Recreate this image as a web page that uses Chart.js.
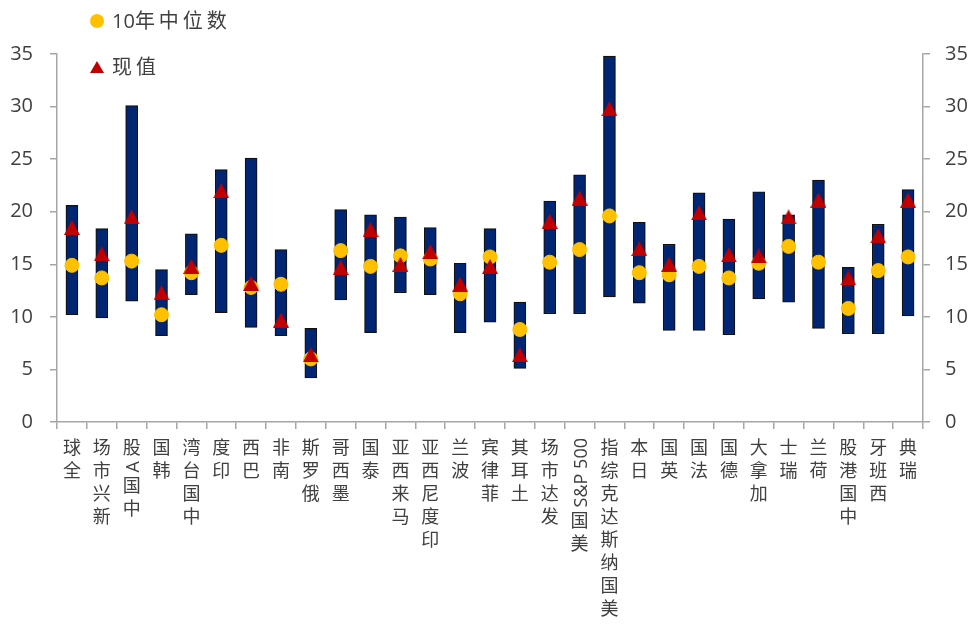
<!DOCTYPE html>
<html>
<head>
<meta charset="utf-8">
<title>估值区间</title>
<script src="https://cdn.jsdelivr.net/npm/chart.js@4.4.1/dist/chart.umd.min.js"></script>
<style>
  body { margin: 0; background: #fff; }
  #wrap { position: relative; width: 970px; height: 635px; font-family: "Open Sans", "Noto Sans CJK SC", sans-serif; color: #404040; }
  #chart { position: absolute; left: 0; top: 0; }
  .legend-item { position: absolute; left: 90px; height: 24px; display: flex; align-items: center; font-size: 20px; letter-spacing: 4px; line-height: 24px; }
  .legend-item .num { letter-spacing: 0; }
  .dot { width: 14px; height: 14px; border-radius: 50%; background: #FFC000; margin-right: 8px; }
  .tri { width: 0; height: 0; border-left: 7px solid transparent; border-right: 7px solid transparent; border-bottom: 12px solid #C00000; margin-right: 8px; }
  /* 类目标签自下而上排列：中文直立，拉丁字符逆时针侧转 */
  .xlabel { position: absolute; top: 436px; display: flex; flex-direction: column-reverse; align-items: center; transform: translateX(-50%); font-size: 18px; }
  .xlabel .ch { display: block; height: 23px; line-height: 23px; }
  .xlabel .latin { display: block; writing-mode: vertical-rl; transform: rotate(180deg); line-height: 23px; padding: 2px 0; white-space: pre; }
</style>
</head>
<body>
<div id="wrap">
  <canvas id="chart" width="970" height="635"></canvas>
  <div class="legend-item" style="top: 9px;"><span class="dot"></span><span class="num">10</span>年中位数</div>
  <div class="legend-item" style="top: 55px;"><span class="tri"></span>现值</div>
  <div id="xlabels"></div>
</div>
<script>
const categories = ['全球', '新兴市场', '中国A股', '韩国', '中国台湾', '印度', '巴西', '南非', '俄罗斯', '墨西哥',
  '泰国', '马来西亚', '印度尼西亚', '波兰', '菲律宾', '土耳其', '发达市场', '美国S&P 500', '美国纳斯达克综指', '日本',
  '英国', '法国', '德国', '加拿大', '瑞士', '荷兰', '中国港股', '西班牙', '瑞典'];

// 10年区间 低 / 高
const rangeLow = [10.2, 9.9, 11.5, 8.2, 12.1, 10.4, 9.0, 8.2, 4.2, 11.6,
  8.5, 12.3, 12.1, 8.5, 9.5, 5.1, 10.3, 10.3, 11.9, 11.3,
  8.7, 8.7, 8.3, 11.7, 11.4, 8.9, 8.4, 8.4, 10.1];
const rangeHigh = [20.6, 18.4, 30.1, 14.5, 17.9, 24.0, 25.1, 16.4, 8.9, 20.2,
  19.7, 19.5, 18.5, 15.1, 18.4, 11.4, 21.0, 23.5, 34.8, 19.0,
  16.9, 21.8, 19.3, 21.9, 19.7, 23.0, 14.7, 18.8, 22.1];
const median10y = [14.9, 13.7, 15.3, 10.2, 14.2, 16.8, 12.8, 13.1, 6.0, 16.3,
  14.8, 15.8, 15.5, 12.2, 15.7, 8.8, 15.2, 16.4, 19.6, 14.2,
  14.0, 14.8, 13.7, 15.1, 16.7, 15.2, 10.8, 14.4, 15.7];
const current = [18.5, 16.0, 19.5, 12.3, 14.8, 22.0, 13.2, 9.7, 6.4, 14.7,
  18.3, 15.0, 16.2, 13.1, 14.8, 6.4, 19.1, 21.3, 29.8, 16.5,
  15.0, 19.9, 15.9, 15.8, 19.5, 21.1, 13.7, 17.7, 21.1];

const yMin = 0, yMax = 35, yStep = 5;
const axisColor = '#A6A6A6';
const textColor = '#404040';
const fontFamily = '"Open Sans", "Noto Sans CJK SC", sans-serif';

// 三角形标记：用小画布做 pointStyle，图像中心即数值位置
const triImg = document.createElement('canvas');
triImg.width = 16; triImg.height = 15;
const tctx = triImg.getContext('2d');
tctx.fillStyle = '#C00000';
tctx.beginPath();
tctx.moveTo(8, 0); tctx.lineTo(16, 15); tctx.lineTo(0, 15);
tctx.closePath();
tctx.fill();

const yAxis = (position, width, padding) => ({
  type: 'linear',
  position: position,
  min: yMin,
  max: yMax,
  ticks: { stepSize: yStep, padding: padding, color: textColor, font: { family: fontFamily, size: 20 } },
  grid: { drawOnChartArea: false, drawTicks: true, tickLength: 7, color: axisColor, lineWidth: 1.5 },
  border: { color: axisColor, width: 1.5 },
  afterFit: s => { s.width = width; }
});

const chart = new Chart(document.getElementById('chart'), {
  type: 'bar',
  data: {
    labels: categories,
    datasets: [
      {
        type: 'line',
        label: '现值',
        data: current,
        showLine: false,
        pointStyle: triImg,
        pointRadius: 8,
        order: 1
      },
      {
        type: 'line',
        label: '10年中位数',
        data: median10y,
        showLine: false,
        pointStyle: 'circle',
        pointRadius: 7,
        pointBackgroundColor: '#FFC000',
        pointBorderColor: '#FFC000',
        pointBorderWidth: 1,
        order: 2
      },
      {
        type: 'bar',
        label: '区间',
        data: rangeLow.map((lo, i) => [lo, rangeHigh[i]]),
        backgroundColor: '#002673',
        borderColor: '#111111',
        borderWidth: 1.2,
        borderSkipped: false,
        barThickness: 12,
        order: 3
      }
    ]
  },
  options: {
    responsive: false,
    animation: false,
    layout: { padding: { top: 54, left: 0, right: 0, bottom: 0 } },
    plugins: { legend: { display: false }, tooltip: { enabled: false } },
    scales: {
      x: {
        offset: true,
        ticks: { display: false },
        grid: { display: true, offset: true, drawOnChartArea: false, drawTicks: true, tickLength: 7, color: axisColor, lineWidth: 1.5 },
        border: { color: axisColor, width: 1.5 },
        afterFit: s => { s.height = 213; }
      },
      y: yAxis('left', 57, 17),
      y2: yAxis('right', 47, 15)
    }
  }
});

// 类目标签放在 x 轴各类目中心下方
const holder = document.getElementById('xlabels');
categories.forEach((name, i) => {
  const div = document.createElement('div');
  div.className = 'xlabel';
  div.style.left = chart.scales.x.getPixelForValue(i) + 'px';
  const parts = name.match(/[A-Za-z0-9&][A-Za-z0-9& ]*|[^A-Za-z0-9&]/g);
  parts.forEach(p => {
    const span = document.createElement('span');
    span.className = /^[A-Za-z0-9&]/.test(p) ? 'latin' : 'ch';
    span.textContent = p;
    div.appendChild(span);
  });
  holder.appendChild(div);
});
</script>
</body>
</html>
